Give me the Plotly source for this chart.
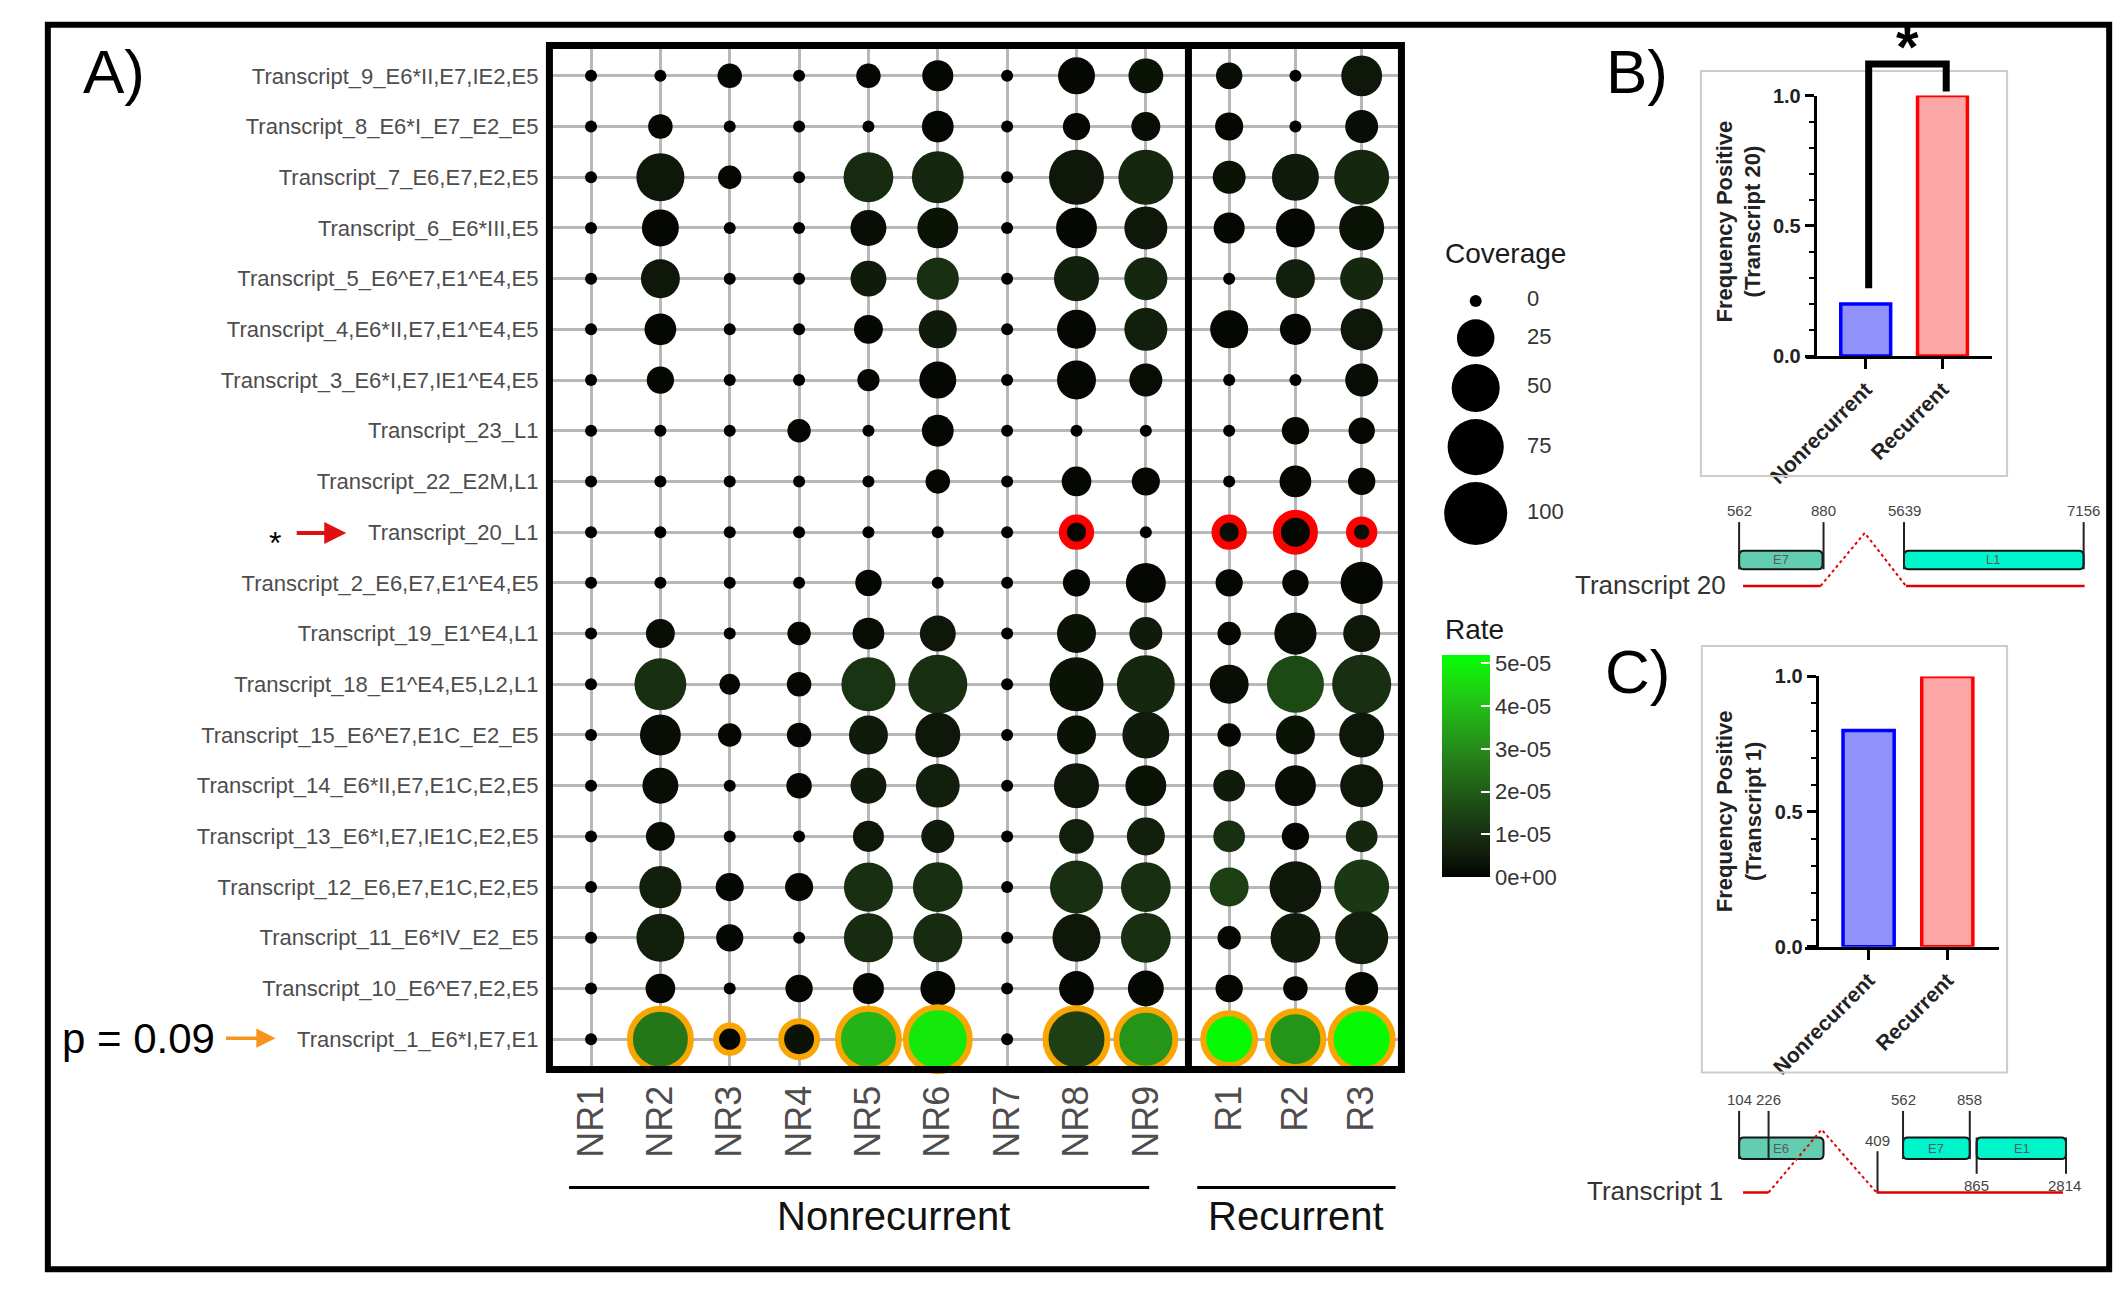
import math
import plotly.graph_objects as go

W, H = 2118, 1289
FONT = "Liberation Sans, Arial, Helvetica, sans-serif"


def X(p):
    return p / W


def Y(p):
    return 1 - p / H


# ---------------- data ----------------
transcripts = [
    "Transcript_9_E6*II,E7,IE2,E5",
    "Transcript_8_E6*I_E7_E2_E5",
    "Transcript_7_E6,E7,E2,E5",
    "Transcript_6_E6*III,E5",
    "Transcript_5_E6^E7,E1^E4,E5",
    "Transcript_4,E6*II,E7,E1^E4,E5",
    "Transcript_3_E6*I,E7,IE1^E4,E5",
    "Transcript_23_L1",
    "Transcript_22_E2M,L1",
    "Transcript_20_L1",
    "Transcript_2_E6,E7,E1^E4,E5",
    "Transcript_19_E1^E4,L1",
    "Transcript_18_E1^E4,E5,L2,L1",
    "Transcript_15_E6^E7,E1C_E2_E5",
    "Transcript_14_E6*II,E7,E1C,E2,E5",
    "Transcript_13_E6*I,E7,IE1C,E2,E5",
    "Transcript_12_E6,E7,E1C,E2,E5",
    "Transcript_11_E6*IV_E2_E5",
    "Transcript_10_E6^E7,E2,E5",
    "Transcript_1_E6*I,E7,E1",
]
samples_nr = ["NR1", "NR2", "NR3", "NR4", "NR5", "NR6", "NR7", "NR8", "NR9"]
samples_r = ["R1", "R2", "R3"]

# coverage per sample (rows in transcript order above)
cov_NR1 = [0, 0, 0, 0, 0, 0, 0, 0, 0, 0, 0, 0, 0, 0, 0, 0, 0, 0, 0, 0]
cov_NR2 = [0, 6, 50, 24, 28, 15, 9, 0, 0, 0, 0, 11, 61, 32, 22, 11, 35, 50, 12, 92]
cov_NR3 = [6, 0, 5, 0, 0, 0, 0, 0, 0, 0, 0, 0, 3, 5, 0, 0, 10, 9, 0, 9]
cov_NR4 = [0, 0, 0, 0, 0, 0, 0, 5, 0, 0, 0, 5, 6, 6, 7, 0, 10, 0, 9, 22]
cov_NR5 = [6, 0, 55, 22, 22, 11, 4, 0, 0, 0, 8, 15, 68, 28, 22, 14, 53, 53, 14, 92]
cov_NR6 = [14, 15, 61, 32, 35, 26, 24, 15, 6, 0, 0, 22, 85, 42, 39, 17, 55, 53, 20, 104]
cov_NR7 = [0, 0, 0, 0, 0, 0, 0, 0, 0, 0, 0, 0, 0, 0, 0, 0, 0, 0, 0, 0]
cov_NR8 = [24, 9, 71, 32, 42, 28, 28, 0, 12, 9, 9, 28, 68, 28, 42, 20, 65, 50, 20, 96]
cov_NR9 = [20, 11, 71, 37, 37, 37, 17, 0, 10, 0, 30, 17, 81, 47, 32, 26, 55, 55, 22, 85]
cov_R1 = [8, 10, 17, 14, 0, 26, 0, 0, 0, 9, 9, 5, 28, 5, 15, 15, 28, 5, 9, 61]
cov_R2 = [0, 0, 47, 28, 28, 14, 0, 9, 15, 24, 8, 35, 78, 28, 32, 9, 61, 55, 6, 74]
cov_R3 = [32, 17, 71, 42, 37, 35, 17, 8, 9, 5, 35, 24, 85, 42, 37, 15, 71, 65, 17, 96]

# rate per sample, in units of 1e-05
rate_NR1 = [0, 0, 0, 0, 0, 0, 0, 0, 0, 0, 0, 0, 0, 0, 0, 0, 0, 0, 0, 0]
rate_NR2 = [0, 0.1, 0.4, 0.1, 0.4, 0.1, 0.1, 0, 0, 0, 0, 0.2, 1.0, 0.2, 0.2, 0.2, 0.6, 0.6, 0.1, 2.6]
rate_NR3 = [0.1, 0, 0.1, 0, 0, 0, 0, 0, 0, 0, 0, 0, 0.1, 0.1, 0, 0, 0.1, 0.1, 0, 0.1]
rate_NR4 = [0, 0, 0, 0, 0, 0, 0, 0.1, 0, 0, 0, 0.1, 0.1, 0.1, 0.1, 0, 0.1, 0, 0.1, 0.3]
rate_NR5 = [0.1, 0, 0.9, 0.2, 0.5, 0.1, 0.1, 0, 0, 0, 0.1, 0.2, 1.1, 0.5, 0.5, 0.4, 1.0, 0.9, 0.1, 3.8]
rate_NR6 = [0.1, 0.1, 0.8, 0.3, 1.0, 0.5, 0.1, 0.1, 0.1, 0, 0, 0.4, 1.0, 0.4, 0.6, 0.5, 1.0, 0.9, 0.1, 4.8]
rate_NR7 = [0, 0, 0, 0, 0, 0, 0, 0, 0, 0, 0, 0, 0, 0, 0, 0, 0, 0, 0, 0]
rate_NR8 = [0.1, 0.1, 0.4, 0.1, 0.6, 0.1, 0.1, 0, 0.1, 0.1, 0.1, 0.3, 0.3, 0.3, 0.4, 0.6, 1.0, 0.4, 0.1, 1.4]
rate_NR9 = [0.3, 0.2, 0.8, 0.4, 0.8, 0.6, 0.2, 0, 0.1, 0, 0.1, 0.5, 0.8, 0.5, 0.3, 0.6, 1.0, 1.0, 0.1, 3.2]
rate_R1 = [0.2, 0.1, 0.3, 0.1, 0, 0.1, 0, 0, 0, 0.2, 0.1, 0.1, 0.2, 0.1, 0.5, 1.0, 1.4, 0.1, 0.1, 5.1]
rate_R2 = [0, 0, 0.5, 0.1, 0.6, 0.1, 0, 0.1, 0.1, 0.1, 0.1, 0.2, 1.6, 0.3, 0.2, 0.1, 0.4, 0.5, 0.1, 3.2]
rate_R3 = [0.4, 0.2, 0.8, 0.3, 0.8, 0.4, 0.2, 0.1, 0.1, 0.2, 0.1, 0.4, 1.0, 0.4, 0.4, 0.8, 1.2, 0.6, 0.1, 5.1]

coverage_breaks = [0, 25, 50, 75, 100]
rate_ticks = [0, 1, 2, 3, 4, 5]
rate_tick_labels = ["0e+00", "1e-05", "2e-05", "3e-05", "4e-05", "5e-05"]

groups = ["Nonrecurrent", "Recurrent"]
freq_t20 = [0.2, 1.0]
freq_t1 = [0.8, 1.0]

highlight_ring = {"Transcript_20_L1": ("#ff0000", 8), "Transcript_1_E6*I,E7,E1": ("#f9a602", 6)}

# ---------------- scales ----------------
def cov_size(v):
    return 12 + 51 * math.sqrt(max(v, 0) / 100.0)


def lab_to_rgb(L, a, b):
    fy = (L + 16) / 116
    fx = fy + a / 500
    fz = fy - b / 200

    def finv(f):
        return f ** 3 if f ** 3 > 216 / 24389 else (116 * f - 16) / (24389 / 27)

    xc, yc, zc = 0.95047 * finv(fx), finv(fy), 1.08883 * finv(fz)
    r = 3.2404542 * xc - 1.5371385 * yc - 0.4985314 * zc
    g = -0.9692660 * xc + 1.8760108 * yc + 0.0415560 * zc
    bl = 0.0556434 * xc - 0.2040259 * yc + 1.0572252 * zc

    def gam(v):
        v = max(0.0, min(1.0, v))
        return 12.92 * v if v <= 0.0031308 else 1.055 * v ** (1 / 2.4) - 0.055

    return "rgb(%d,%d,%d)" % tuple(round(255 * gam(c)) for c in (r, g, bl))


GREEN_LAB = (87.737, -86.185, 83.181)
colorscale = [[i / 20, lab_to_rgb(*(i / 20 * c for c in GREEN_LAB))] for i in range(21)]
RATE_UNIT = 1e-5
CMAX = 5.2e-5


def facet_trace(samples, covs, rates, xaxis):
    xs, ys, sz, col, lc, lw = [], [], [], [], [], []
    for s, cv, rt in zip(samples, covs, rates):
        for tr, c, r in zip(transcripts, cv, rt):
            xs.append(s)
            ys.append(tr)
            sz.append(cov_size(c))
            col.append(r * RATE_UNIT)
            if tr in highlight_ring and c > 0:
                lc.append(highlight_ring[tr][0])
                lw.append(highlight_ring[tr][1])
            else:
                lc.append("rgba(0,0,0,0)")
                lw.append(0)
    return go.Scatter(
        x=xs, y=ys, mode="markers", xaxis=xaxis, yaxis="y",
        marker=dict(size=sz, color=col, coloraxis="coloraxis", opacity=1,
                    line=dict(color=lc, width=lw)),
        hoverinfo="skip", showlegend=False, cliponaxis=False,
    )


fig = go.Figure()
fig.add_trace(facet_trace(samples_nr,
                          [cov_NR1, cov_NR2, cov_NR3, cov_NR4, cov_NR5, cov_NR6, cov_NR7, cov_NR8, cov_NR9],
                          [rate_NR1, rate_NR2, rate_NR3, rate_NR4, rate_NR5, rate_NR6, rate_NR7, rate_NR8, rate_NR9],
                          "x"))
fig.add_trace(facet_trace(samples_r, [cov_R1, cov_R2, cov_R3], [rate_R1, rate_R2, rate_R3], "x2"))

# coverage legend keys
key_h = [max(cov_size(v) + 8, 30) for v in coverage_breaks]
key_y, acc = [], 280
for h in key_h:
    key_y.append(acc + h / 2)
    acc += h
fig.add_trace(go.Scatter(x=[0] * len(coverage_breaks), y=key_y, mode="markers", xaxis="x5", yaxis="y5",
                         marker=dict(size=[cov_size(v) for v in coverage_breaks], color="black", opacity=1,
                                     line=dict(width=0)),
                         hoverinfo="skip", showlegend=False, cliponaxis=False))
fig.add_trace(go.Scatter(x=[0.72] * len(coverage_breaks), y=key_y, mode="text", xaxis="x5", yaxis="y5",
                         text=[str(v) for v in coverage_breaks], textposition="middle right",
                         textfont=dict(family=FONT, size=22, color="#333333"),
                         hoverinfo="skip", showlegend=False, cliponaxis=False))

# bar charts
bar_fill = ["#9191fa", "#fca6a6"]
bar_edge = ["#0000ff", "#ff0000"]
for vals, xa, ya in [(freq_t20, "x3", "y3"), (freq_t1, "x4", "y4")]:
    fig.add_trace(go.Bar(x=groups, y=vals, xaxis=xa, yaxis=ya, width=0.65,
                         marker=dict(color=bar_fill, line=dict(color=bar_edge, width=3.5)),
                         hoverinfo="skip", showlegend=False))

# ---------------- axes ----------------
grid = dict(showgrid=True, gridcolor="#b8b8b8", gridwidth=3, zeroline=False, showline=False, ticks="")
xtick_font = dict(family=FONT, size=36, color="#4d4d4d")
fig.update_layout(
    width=W, height=H, margin=dict(l=0, r=0, t=0, b=0),
    paper_bgcolor="white", plot_bgcolor="white", showlegend=False,
    xaxis=dict(domain=[X(520), X(1170)], anchor="y", type="category", categoryorder="array",
               categoryarray=samples_nr, range=[-0.6, 8.6], tickangle=-90, tickfont=xtick_font,
               ticklabelstandoff=8, fixedrange=True, **grid),
    xaxis2=dict(domain=[X(1172), X(1388)], anchor="y", type="category", categoryorder="array",
                categoryarray=samples_r, range=[-0.6, 2.6], tickangle=-90, tickfont=xtick_font,
                ticklabelstandoff=8, fixedrange=True, **grid),
    yaxis=dict(domain=[Y(1077), Y(35)], anchor="x", type="category", categoryorder="array",
               categoryarray=transcripts, range=[19.6, -0.6],
               tickfont=dict(family=FONT, size=22, color="#4d4d4d"), ticklabelstandoff=10,
               fixedrange=True, **grid),
    xaxis5=dict(domain=[X(1420), X(1580)], anchor="y5", range=[-0.6, 1.6], visible=False),
    yaxis5=dict(domain=[Y(560), Y(270)], anchor="x5", range=[560, 270], visible=False),
    coloraxis=dict(colorscale=colorscale, cmin=0, cmax=CMAX,
                   colorbar=dict(x=X(1429), xanchor="left", y=Y(768), yanchor="middle",
                                 len=226 / H, lenmode="fraction", thickness=48, thicknessmode="pixels",
                                 tickvals=[v * RATE_UNIT for v in rate_ticks], ticktext=rate_tick_labels,
                                 ticks="inside", tickcolor="white", ticklen=9, tickwidth=1.5,
                                 tickfont=dict(family=FONT, size=22, color="#333333"),
                                 outlinewidth=0, xpad=0, ypad=0)),
)

bar_x = dict(type="category", categoryorder="array", categoryarray=groups, showline=True,
             linecolor="black", linewidth=3, ticks="outside", ticklen=10, tickwidth=3, tickcolor="black",
             tickangle=-45, tickfont=dict(family=FONT, size=21, color="#222222", weight="bold"),
             showgrid=False, zeroline=False, fixedrange=True)
bar_y = dict(range=[0, 1.0], tickvals=[0, 0.5, 1.0], ticktext=["0.0", "0.5", "1.0"], showline=True,
             linecolor="black", linewidth=3, ticks="outside", ticklen=9, tickwidth=3, tickcolor="black",
             tickfont=dict(family=FONT, size=20, color="#222222", weight="bold"),
             minor=dict(dtick=0.1, ticks="outside", ticklen=5, tickwidth=2, tickcolor="black", showgrid=False),
             showgrid=False, zeroline=False, fixedrange=True, anchor="free")
fig.update_layout(
    xaxis3=dict(domain=[X(1800), X(1990)], anchor="y3", range=[-0.78, 1.65], **bar_x),
    yaxis3=dict(domain=[Y(351), Y(86)], position=X(1809), **bar_y),
    xaxis4=dict(domain=[X(1799), X(1997)], anchor="y4", range=[-0.81, 1.66], **bar_x),
    yaxis4=dict(domain=[Y(952), Y(677)], position=X(1811), **bar_y),
)

# ---------------- shapes ----------------
shapes = []


def line(x0, y0, x1, y1, color="black", width=2, dash="solid"):
    shapes.append(dict(type="line", xref="paper", yref="paper", x0=X(x0), y0=Y(y0), x1=X(x1), y1=Y(y1),
                       line=dict(color=color, width=width, dash=dash), layer="above"))


def rect(x0, y0, x1, y1, color="black", width=2, fill="rgba(0,0,0,0)", layer="above"):
    shapes.append(dict(type="rect", xref="paper", yref="paper", x0=X(x0), y0=Y(y1), x1=X(x1), y1=Y(y0),
                       line=dict(color=color, width=width), fillcolor=fill, layer=layer))


def path(points, color, width, dash="solid"):
    d = "M " + " L ".join("%f,%f" % (X(px), Y(py)) for px, py in points)
    shapes.append(dict(type="path", xref="paper", yref="paper", path=d,
                       line=dict(color=color, width=width, dash=dash), layer="above"))


def rrect(x0, y0, x1, y1, fill, r=5):
    pts = [("M", x0 + r, y0), ("L", x1 - r, y0), ("Q", x1, y0, x1, y0 + r), ("L", x1, y1 - r),
           ("Q", x1, y1, x1 - r, y1), ("L", x0 + r, y1), ("Q", x0, y1, x0, y1 - r), ("L", x0, y0 + r),
           ("Q", x0, y0, x0 + r, y0)]
    d = ""
    for p in pts:
        if p[0] == "Q":
            d += "Q %f,%f %f,%f " % (X(p[1]), Y(p[2]), X(p[3]), Y(p[4]))
        else:
            d += "%s %f,%f " % (p[0], X(p[1]), Y(p[2]))
    d += "Z"
    shapes.append(dict(type="path", xref="paper", yref="paper", path=d, fillcolor=fill,
                       line=dict(color="#151515", width=2), layer="above"))


# outer frame and panel A box
rect(9, 14, 2109, 1280, width=6)
rect(520, 35, 1388, 1077, width=7)
line(1171, 35, 1171, 1077, width=7)
# group lines
line(540, 1197, 1131, 1197, width=3)
line(1180, 1197, 1382, 1197, width=3)
# panel B/C frames
rect(1693, 61, 2005, 473, color="#cccccc", width=2)
rect(1694, 646, 2005, 1080, color="#cccccc", width=2)
# significance bracket
path([(1864, 282), (1864, 54), (1943, 54), (1943, 82)], "black", 7)

MUTED = "rgba(72,196,164,0.85)"
BRIGHT = "#00f5cc"
RED = "#e00000"
# Transcript 20 diagram
rrect(1732, 549, 1817, 568, MUTED)
rrect(1900, 549, 2083, 568, BRIGHT)
for xx in (1732, 1818, 1900, 2083):
    line(xx, 520, xx, 568, color="#222222", width=2)
line(1736, 585, 1815, 585, color=RED, width=2.5)
path([(1815, 585), (1860, 531), (1902, 585)], RED, 2, dash="dot")
line(1902, 585, 2084, 585, color=RED, width=2.5)
# Transcript 1 diagram
rrect(1732, 1146, 1818, 1168, MUTED)
rrect(1899, 1146, 1967, 1168, BRIGHT)
rrect(1974, 1146, 2065, 1168, BRIGHT)
for xx in (1732, 1762, 1899, 1967):
    line(xx, 1119, xx, 1168, color="#222222", width=2)
for xx in (1974, 2065):
    line(xx, 1146, xx, 1183, color="#222222", width=2)
line(1873, 1160, 1873, 1202, color="#222222", width=2)
line(1736, 1202, 1762, 1202, color=RED, width=2.5)
path([(1762, 1202), (1816, 1138), (1872, 1202)], RED, 2, dash="dot")
line(1872, 1202, 2062, 1202, color=RED, width=2.5)

fig.update_layout(shapes=shapes)

# ---------------- annotations ----------------
ann = []


def text(x, y, s, size, color="black", xanchor="center", yanchor="middle", angle=0, weight="normal"):
    ann.append(dict(x=X(x), y=Y(y), xref="paper", yref="paper", text=s, showarrow=False,
                    xanchor=xanchor, yanchor=yanchor, textangle=angle,
                    font=dict(family=FONT, size=size, color=color, weight=weight)))


def arrow(x_tail, x_head, y, color, width):
    ann.append(dict(x=X(x_head), y=Y(y), xref="paper", yref="paper", text="", showarrow=True,
                    ax=x_tail - x_head, ay=0, axref="pixel", ayref="pixel",
                    arrowhead=2, arrowsize=1.1, arrowwidth=width, arrowcolor=color, standoff=0))


text(76, 62, "A)", 62)
text(1628, 62, "B)", 62)
text(1628, 672, "C)", 62)
text(240, 541, "*", 32)
arrow(262, 313, 531, "#e01010", 4)
text(21, 1045, "p = 0.09", 42, xanchor="left")
arrow(190, 241, 1045, "#f7941d", 3.5)
text(871, 1226, "Nonrecurrent", 40, color="#111111")
text(1281, 1226, "Recurrent", 40, color="#111111")
text(1430, 247, "Coverage", 28, color="#1a1a1a", xanchor="left")
text(1430, 629, "Rate", 28, color="#1a1a1a", xanchor="left")
text(1904, 36, "*", 58, weight="bold")
text(1732, 214, "Frequency Positive<br>(Transcript 20)", 22, color="#222222", angle=-90, weight="bold")
text(1732, 814, "Frequency Positive<br>(Transcript 1)", 22, color="#222222", angle=-90, weight="bold")
# diagram labels
text(1642, 584, "Transcript 20", 26, color="#333333")
text(1646, 1200, "Transcript 1", 26, color="#333333")
for xx, s in [(1732, "562"), (1818, "880"), (1900, "5639"), (2083, "7156")]:
    text(xx, 508, s, 15, color="#444444")
for xx, s in [(1732, "104"), (1762, "226"), (1899, "562"), (1967, "858")]:
    text(xx, 1107, s, 15, color="#444444")
text(1873, 1149, "409", 15, color="#444444")
text(1974, 1195, "865", 15, color="#444444")
text(2064, 1195, "2814", 15, color="#444444")
text(1775, 558, "E7", 13, color="#5a5a5a")
text(1991, 558, "L1", 13, color="#5a5a5a")
text(1775, 1157, "E6", 13, color="#5a5a5a")
text(1933, 1157, "E7", 13, color="#5a5a5a")
text(2020, 1157, "E1", 13, color="#5a5a5a")

fig.update_layout(annotations=ann)

fig.write_html("out.html", config={"displayModeBar": False},
               post_script="document.body.style.margin='0';document.body.style.overflow='hidden';")
